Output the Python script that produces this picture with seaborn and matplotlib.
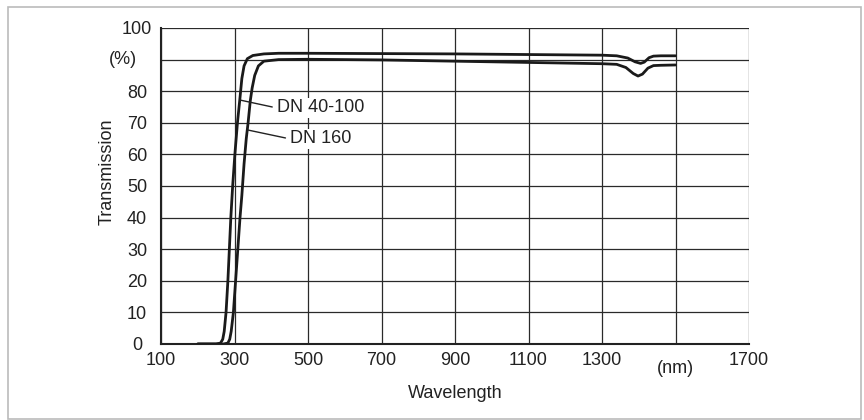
import numpy as np
import pandas as pd
import seaborn as sns
import matplotlib.pyplot as plt
from matplotlib.patches import Rectangle

sns.set_theme(style="white")
plt.rcParams['font.family'] = ['Liberation Sans', 'DejaVu Sans']

wl_small = [200, 250, 262, 268, 272, 277, 282, 286, 290, 295, 301, 308, 315, 320, 326, 335,
            350, 380, 420, 500, 700, 900, 1100, 1300, 1340, 1370, 1390, 1405, 1415, 1428, 1440, 1460, 1500]
tr_small = [0, 0, 0.3, 1.5, 4, 10, 20, 30, 40, 50, 60, 70, 78, 84, 88, 90.3,
            91.3, 91.8, 92, 92, 91.9, 91.8, 91.6, 91.4, 91.2, 90.5, 89.3, 88.8, 89.2, 90.6, 91.1, 91.2, 91.2]

wl_large = [200, 270, 282, 287, 291, 297, 303, 309, 315, 320, 326, 332, 337, 343, 348, 355,
            365, 380, 420, 500, 700, 900, 1100, 1300, 1340, 1365, 1385, 1398, 1410, 1425, 1440, 1460, 1500]
tr_large = [0, 0, 0.3, 1.5, 4, 10, 20, 30, 40, 47, 57, 65, 70, 77, 81, 85,
            88, 89.5, 90, 90.1, 89.9, 89.5, 89.1, 88.7, 88.5, 87.5, 85.6, 84.8, 85.4, 87.3, 88.1, 88.2, 88.3]

x_ticks = [100, 300, 500, 700, 900, 1100, 1300, 1500, 1700]
x_labels = ['100', '300', '500', '700', '900', '1100', '1300', '', '1700']
y_ticks = [0, 10, 20, 30, 40, 50, 60, 70, 80, 90, 100]
y_labels = ['0', '10', '20', '30', '40', '50', '60', '70', '80', '', '100']

df = pd.concat([
    pd.DataFrame({'wl': wl_small, 'tr': tr_small, 'size': 'DN 40-100'}),
    pd.DataFrame({'wl': wl_large, 'tr': tr_large, 'size': 'DN 160'}),
])

fs = 13
txt = '#222222'

fig = plt.figure(figsize=(8.64, 4.2), dpi=100)
ax = fig.add_axes([161/864, 1-344/420, (749-161)/864, (344-28)/420])

sns.lineplot(data=df, x='wl', y='tr', hue='size', palette=['#1a1a1a', '#1a1a1a'],
             estimator=None, legend=False, lw=2.0, ax=ax, zorder=3)

ax.set_xlim(100, 1700)
ax.set_ylim(0, 100)
ax.set_xticks(x_ticks)
ax.set_xticklabels(x_labels)
ax.set_yticks(y_ticks)
ax.set_yticklabels(y_labels, ha='center')
ax.tick_params(length=0, labelsize=fs, labelcolor=txt)
ax.tick_params(axis='x', pad=6)
ax.tick_params(axis='y', pad=17.3)
ax.grid(True, color='#2a2a2a', lw=0.9)
for side in ['left', 'bottom']:
    ax.spines[side].set_color('#222222')
    ax.spines[side].set_linewidth(1.5)
for side in ['top', 'right']:
    ax.spines[side].set_visible(False)
ax.set_xlabel('')
ax.set_ylabel('')

ax.annotate('(%)', xy=(0, 90), xycoords=('axes fraction', 'data'),
            xytext=(-17.3, 0), textcoords='offset points', ha='right', va='center',
            fontsize=fs, color=txt)
ax.annotate('(nm)', xy=(1500, 0), xycoords=('data', 'axes fraction'),
            xytext=(0, -17.5), textcoords='offset points', ha='center', va='center',
            fontsize=fs, color=txt)
ax.text(0.5, -50/316, 'Wavelength', transform=ax.transAxes, ha='center', va='center',
        fontsize=fs, color=txt)
ax.text(-54/588, 0.544, 'Transmission', transform=ax.transAxes, ha='center', va='center',
        rotation=90, fontsize=fs, color=txt)

ax.annotate('DN 40-100', xy=(315, 77.2), xytext=(415, 74.7), ha='left', va='center',
            fontsize=fs, color=txt, zorder=4,
            bbox=dict(boxstyle='square,pad=0.1', fc='white', ec='none'),
            arrowprops=dict(arrowstyle='-', lw=1.0, color=txt, shrinkA=2, shrinkB=0,
                            relpos=(0, 0.5)))
ax.annotate('DN 160', xy=(337, 67.7), xytext=(451, 64.9), ha='left', va='center',
            fontsize=fs, color=txt, zorder=4,
            bbox=dict(boxstyle='square,pad=0.1', fc='white', ec='none'),
            arrowprops=dict(arrowstyle='-', lw=1.0, color=txt, shrinkA=2, shrinkB=0,
                            relpos=(0, 0.5)))

# grey frame around the whole figure
fig.patches.append(Rectangle((8/864, 1-419/420), (861-8)/864, (419-7)/420,
                             transform=fig.transFigure, fill=False, ec='#bbbbbb', lw=1.2))

plt.savefig('out.png', dpi=100)
plt.close()
